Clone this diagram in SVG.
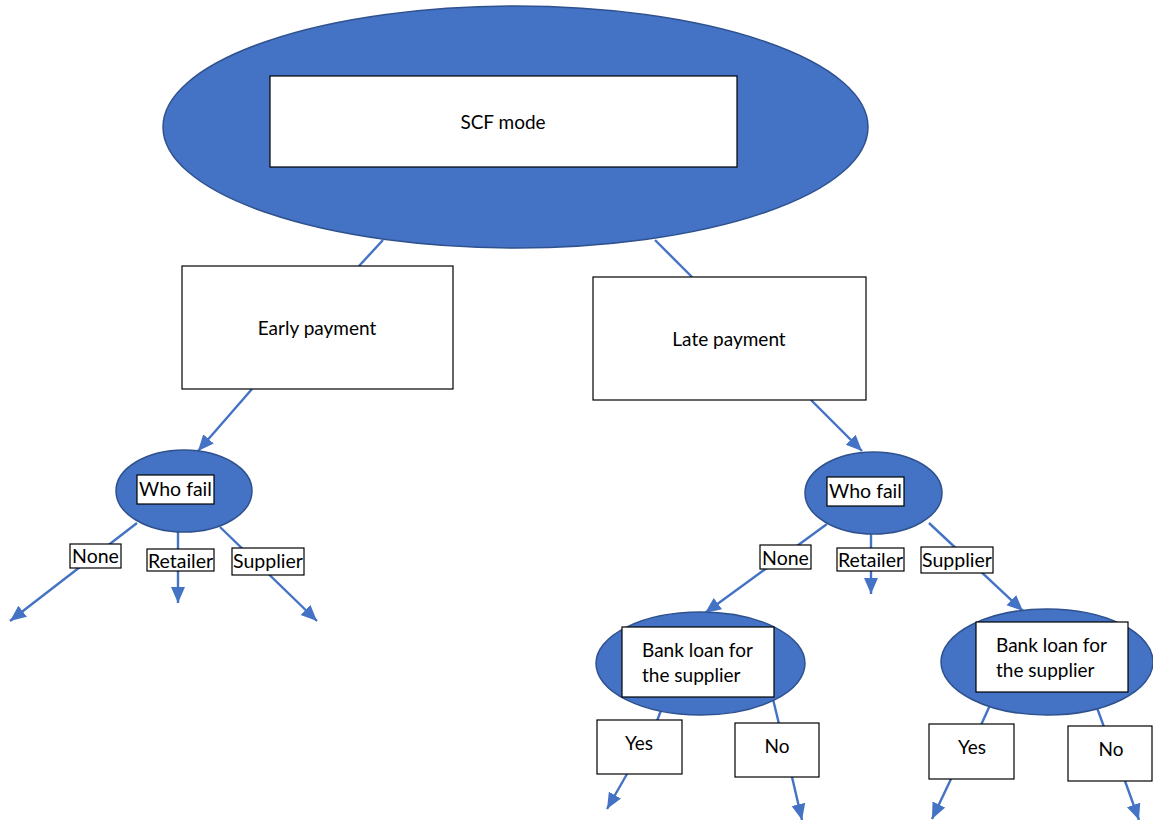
<svg xmlns="http://www.w3.org/2000/svg" width="1153" height="820" viewBox="0 0 1153 820">
<style>
  .ell { fill: #4472C4; stroke: #2F528F; stroke-width: 1.5; }
  .box { fill: #FFFFFF; stroke: #000000; stroke-width: 1.2; }
  .con { stroke: #4472C4; stroke-width: 2.4; fill: none; }
  .t { font-family: Lato, "Open Sans", "Liberation Sans", sans-serif; fill: #000000; }
  .m { font-size: 19px; }
  .l { font-size: 19.5px; }
  .c { text-anchor: middle; }
</style>
<defs>
  <marker id="ah" markerUnits="userSpaceOnUse" markerWidth="17" markerHeight="15" refX="16" refY="7" orient="auto">
    <path d="M0,0 L16,7 L0,14 z" fill="#4472C4"/>
  </marker>
</defs>
<rect width="1153" height="820" fill="#FFFFFF"/>
<g id="connectors">
  <line class="con" x1="383" y1="240" x2="359" y2="266"/>
  <line class="con" x1="655" y1="240" x2="692" y2="277"/>
  <line class="con" x1="252" y1="389" x2="198" y2="451" marker-end="url(#ah)"/>
  <line class="con" x1="811" y1="400" x2="862" y2="451" marker-end="url(#ah)"/>
  <line class="con" x1="137" y1="523" x2="10" y2="621" marker-end="url(#ah)"/>
  <line class="con" x1="178" y1="532" x2="178" y2="603" marker-end="url(#ah)"/>
  <line class="con" x1="220" y1="527" x2="317" y2="621" marker-end="url(#ah)"/>
  <line class="con" x1="827" y1="524" x2="705" y2="613" marker-end="url(#ah)"/>
  <line class="con" x1="871" y1="534" x2="871" y2="594" marker-end="url(#ah)"/>
  <line class="con" x1="929" y1="523" x2="1023" y2="611" marker-end="url(#ah)"/>
  <line class="con" x1="663" y1="705" x2="657" y2="721"/>
  <line class="con" x1="772" y1="695" x2="779" y2="724"/>
  <line class="con" x1="627" y1="774" x2="607" y2="809" marker-end="url(#ah)"/>
  <line class="con" x1="792" y1="777" x2="802" y2="820" marker-end="url(#ah)"/>
  <line class="con" x1="991" y1="703" x2="981" y2="725"/>
  <line class="con" x1="1096" y1="705" x2="1104" y2="727"/>
  <line class="con" x1="951" y1="779" x2="932" y2="819" marker-end="url(#ah)"/>
  <line class="con" x1="1125" y1="781" x2="1139" y2="820" marker-end="url(#ah)"/>
</g>
<g id="scf-mode">
  <ellipse class="ell" cx="515.5" cy="127" rx="352.5" ry="121"/>
  <rect class="box" x="270" y="76" width="467" height="91"/>
  <text class="t m c" x="503" y="129">SCF mode</text>
</g>
<g id="early-payment">
  <rect class="box" x="182" y="266" width="271" height="123"/>
  <text class="t m c" x="317" y="335">Early payment</text>
</g>
<g id="late-payment">
  <rect class="box" x="593" y="277" width="273" height="123"/>
  <text class="t m c" x="729" y="346">Late payment</text>
</g>
<g id="who-fail-left">
  <ellipse class="ell" cx="184" cy="491" rx="68" ry="41"/>
  <rect class="box" x="137" y="475" width="77" height="29"/>
  <text class="t l c" x="175.5" y="496">Who fail</text>
</g>
<g id="label-none-left">
  <rect class="box" x="70" y="544" width="51" height="24"/>
  <text class="t l c" x="95.5" y="563">None</text>
</g>
<g id="label-retailer-left">
  <rect class="box" x="147" y="549" width="67" height="22"/>
  <text class="t l c" x="180.5" y="568">Retailer</text>
</g>
<g id="label-supplier-left">
  <rect class="box" x="232" y="548" width="72" height="27"/>
  <text class="t l c" x="268" y="568">Supplier</text>
</g>
<g id="who-fail-right">
  <ellipse class="ell" cx="873.5" cy="493" rx="68.5" ry="41"/>
  <rect class="box" x="827" y="477" width="77" height="29"/>
  <text class="t l c" x="865.5" y="498">Who fail</text>
</g>
<g id="label-none-right">
  <rect class="box" x="760" y="545" width="51" height="24"/>
  <text class="t l c" x="785.5" y="565">None</text>
</g>
<g id="label-retailer-right">
  <rect class="box" x="837" y="548" width="67" height="23"/>
  <text class="t l c" x="870.5" y="567">Retailer</text>
</g>
<g id="label-supplier-right">
  <rect class="box" x="921" y="547" width="72" height="26"/>
  <text class="t l c" x="957" y="567">Supplier</text>
</g>
<g id="bank-loan-left">
  <ellipse class="ell" cx="700.5" cy="663.5" rx="104.5" ry="51.5"/>
  <rect class="box" x="622" y="627" width="152" height="70"/>
  <text class="t m" x="642" y="657">Bank loan for</text>
  <text class="t m" x="642" y="682">the supplier</text>
</g>
<g id="yes-left">
  <rect class="box" x="597" y="720" width="85" height="54"/>
  <text class="t m c" x="639" y="750">Yes</text>
</g>
<g id="no-left">
  <rect class="box" x="735" y="723" width="84" height="54"/>
  <text class="t m c" x="777" y="753">No</text>
</g>
<g id="bank-loan-right">
  <ellipse class="ell" cx="1047" cy="662" rx="106" ry="53"/>
  <rect class="box" x="976" y="622" width="152" height="70"/>
  <text class="t m" x="996" y="652">Bank loan for</text>
  <text class="t m" x="996" y="677">the supplier</text>
</g>
<g id="yes-right">
  <rect class="box" x="929" y="724" width="85" height="55"/>
  <text class="t m c" x="972" y="754">Yes</text>
</g>
<g id="no-right">
  <rect class="box" x="1068" y="726" width="84" height="55"/>
  <text class="t m c" x="1111" y="756">No</text>
</g>
</svg>
